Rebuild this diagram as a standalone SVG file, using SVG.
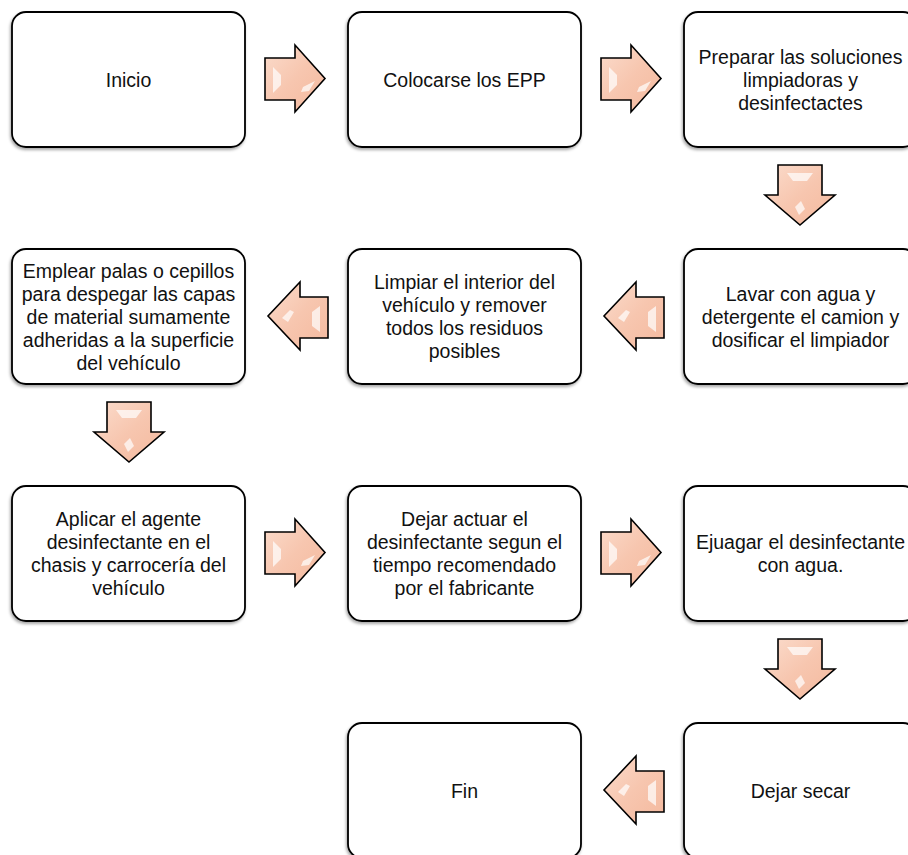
<svg xmlns="http://www.w3.org/2000/svg" width="908" height="855" viewBox="0 0 908 855">
<defs>
<style>
.box{fill:#ffffff;stroke:#000000;stroke-width:1.8;filter:url(#sh)}
.t{font-family:"Liberation Sans",Arial,sans-serif;font-size:19.5px;fill:#111111;text-anchor:middle}
.ar{fill:url(#pg);stroke:#000000;stroke-width:1.6;stroke-linejoin:miter}
.hl{fill:#ffffff;opacity:0.7}
</style>
<filter id="sh" x="-10%" y="-10%" width="120%" height="125%">
<feDropShadow dx="-1" dy="2" stdDeviation="1.5" flood-color="#000000" flood-opacity="0.35"/>
</filter>
<linearGradient id="pg" x1="0" y1="0" x2="1" y2="1">
<stop offset="0" stop-color="#fbdccc"/>
<stop offset="0.5" stop-color="#f7c6af"/>
<stop offset="1" stop-color="#f4b99e"/>
</linearGradient>
<g id="ra">
<polygon class="ar" points="0,13 30,13 30,0 60,33.5 30,67 30,55 0,55"/>
<polygon class="hl" points="8,22 16,30 16,40 8,48"/>
<polygon class="hl" points="38,42 50,36 44,46 36,47" opacity="0.6"/>
</g>
<g id="la">
<polygon class="ar" points="60,15 32,15 32,0 0,34 32,68 32,56 60,56"/>
<polygon class="hl" points="52,24 44,30 44,44 52,50"/>
<polygon class="hl" points="14,36 22,28 26,30 20,40" opacity="0.6"/>
</g>
<g id="da">
<polygon class="ar" points="13,0 57,0 57,30 70,30 35,60 0,30 13,30"/>
<polygon class="hl" points="22,8 48,8 42,16 28,16"/>
<polygon class="hl" points="30,42 36,36 40,44 34,50" opacity="0.6"/>
</g>
</defs>
<rect width="908" height="855" fill="#ffffff"/>

<g id="connectors">
<use href="#ra" x="265" y="45"/>
<use href="#ra" x="601" y="45"/>
<use href="#da" x="765" y="165"/>
<use href="#la" x="604" y="282"/>
<use href="#la" x="268" y="282"/>
<use href="#da" x="94" y="402"/>
<use href="#ra" x="265" y="519"/>
<use href="#ra" x="601" y="519"/>
<use href="#da" x="765" y="639"/>
<use href="#la" x="604" y="756"/>
</g>

<g id="n1"><rect class="box" x="12" y="12" width="233" height="135" rx="14"/>
<text class="t" x="128.5" y="87">Inicio</text></g>

<g id="n2"><rect class="box" x="348" y="12" width="233" height="135" rx="14"/>
<text class="t" x="464.5" y="87">Colocarse los EPP</text></g>

<g id="n3"><rect class="box" x="684" y="12" width="233" height="135" rx="14"/>
<text class="t" x="800.5"><tspan x="800.5" y="64">Preparar las soluciones</tspan><tspan x="800.5" y="87">limpiadoras y</tspan><tspan x="800.5" y="110">desinfectactes</tspan></text></g>

<g id="n4"><rect class="box" x="684" y="249" width="233" height="135" rx="14"/>
<text class="t"><tspan x="800.5" y="301">Lavar con agua y</tspan><tspan x="800.5" y="324">detergente el camion y</tspan><tspan x="800.5" y="347">dosificar el limpiador</tspan></text></g>

<g id="n5"><rect class="box" x="348" y="249" width="233" height="135" rx="14"/>
<text class="t"><tspan x="464.5" y="289">Limpiar el interior del</tspan><tspan x="464.5" y="312">vehículo y remover</tspan><tspan x="464.5" y="335">todos los residuos</tspan><tspan x="464.5" y="358">posibles</tspan></text></g>

<g id="n6"><rect class="box" x="12" y="249" width="233" height="135" rx="14"/>
<text class="t"><tspan x="128.5" y="278">Emplear palas o cepillos</tspan><tspan x="128.5" y="301">para despegar las capas</tspan><tspan x="128.5" y="324">de material sumamente</tspan><tspan x="128.5" y="347">adheridas a la superficie</tspan><tspan x="128.5" y="370">del vehículo</tspan></text></g>

<g id="n7"><rect class="box" x="12" y="486" width="233" height="135" rx="14"/>
<text class="t"><tspan x="128.5" y="526">Aplicar el agente</tspan><tspan x="128.5" y="549">desinfectante en el</tspan><tspan x="128.5" y="572">chasis y carrocería del</tspan><tspan x="128.5" y="595">vehículo</tspan></text></g>

<g id="n8"><rect class="box" x="348" y="486" width="233" height="135" rx="14"/>
<text class="t"><tspan x="464.5" y="526">Dejar actuar el</tspan><tspan x="464.5" y="549">desinfectante segun el</tspan><tspan x="464.5" y="572">tiempo recomendado</tspan><tspan x="464.5" y="595">por el fabricante</tspan></text></g>

<g id="n9"><rect class="box" x="684" y="486" width="233" height="135" rx="14"/>
<text class="t"><tspan x="800.5" y="549">Ejuagar el desinfectante</tspan><tspan x="800.5" y="572">con agua.</tspan></text></g>

<g id="n10"><rect class="box" x="684" y="723" width="233" height="135" rx="14"/>
<text class="t" x="800.5" y="798">Dejar secar</text></g>

<g id="n11"><rect class="box" x="348" y="723" width="233" height="135" rx="14"/>
<text class="t" x="464.5" y="798">Fin</text></g>
</svg>
